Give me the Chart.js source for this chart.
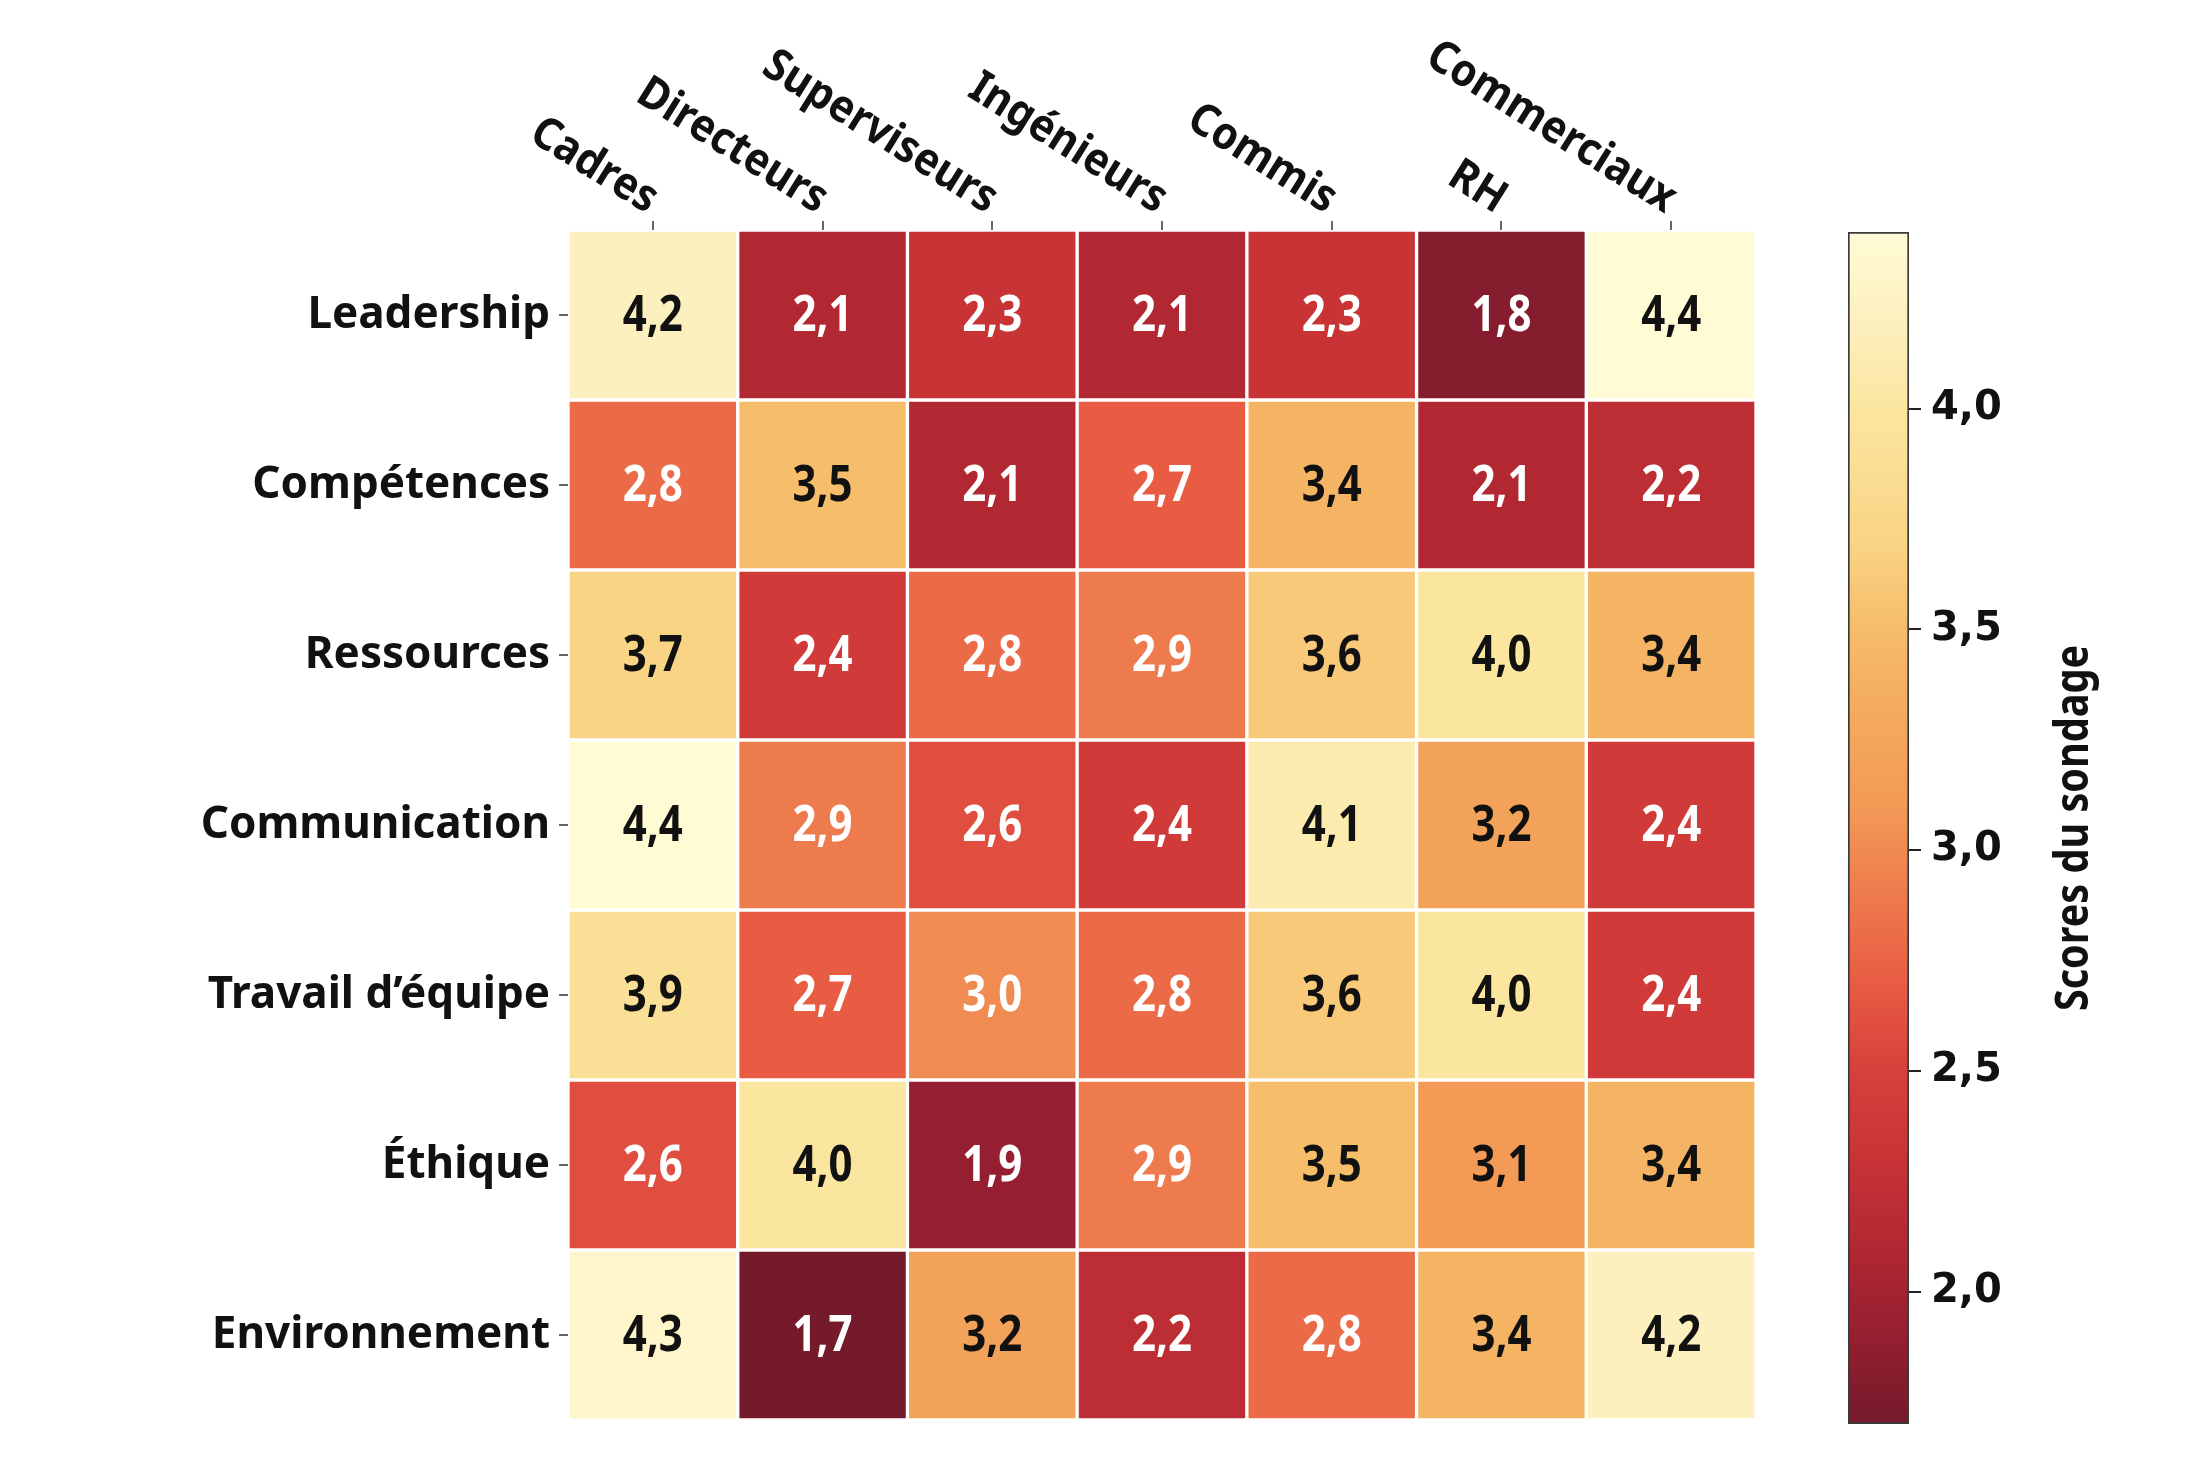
<!DOCTYPE html>
<html lang="fr">
<head>
<meta charset="utf-8">
<title>Scores du sondage</title>
<script src="https://cdn.jsdelivr.net/npm/chart.js@4.4.1/dist/chart.umd.min.js"></script>
<style>
  html, body { margin: 0; padding: 0; background: #fff; }
  #wrap { position: relative; width: 2200px; height: 1470px; }
  #heat { position: absolute; left: 0; top: 0; }
  #bar  { position: absolute; left: 1800px; top: 0; }
</style>
</head>
<body>
<div id="wrap">
  <canvas id="heat" width="1800" height="1470"></canvas>
  <canvas id="bar" width="400" height="1470"></canvas>
</div>
<script>
// Heatmap of survey scores per job group, with a colour bar on the right.

const columns = ["Cadres", "Directeurs", "Superviseurs", "Ingénieurs", "Commis", "RH", "Commerciaux"];
const rows    = ["Leadership", "Compétences", "Ressources", "Communication",
                 "Travail d’équipe", "Éthique", "Environnement"];

const leadership    = [4.2, 2.1, 2.3, 2.1, 2.3, 1.8, 4.4];
const competences   = [2.8, 3.5, 2.1, 2.7, 3.4, 2.1, 2.2];
const ressources    = [3.7, 2.4, 2.8, 2.9, 3.6, 4.0, 3.4];
const communication = [4.4, 2.9, 2.6, 2.4, 4.1, 3.2, 2.4];
const travail       = [3.9, 2.7, 3.0, 2.8, 3.6, 4.0, 2.4];
const ethique       = [2.6, 4.0, 1.9, 2.9, 3.5, 3.1, 3.4];
const environnement = [4.3, 1.7, 3.2, 2.2, 2.8, 3.4, 4.2];

const scores = [leadership, competences, ressources, communication, travail, ethique, environnement];

const scaleMin  = 1.7;
const scaleMax  = 4.4;
const cbTicks   = [2.0, 2.5, 3.0, 3.5, 4.0];
const cbTitle   = "Scores du sondage";

// colour map stops (score -> colour)
const cmapStops  = [1.7, 1.9, 2.1, 2.3, 2.5, 2.7, 2.9, 3.1, 3.3, 3.5, 3.7, 4.0, 4.2, 4.4];
const cmapColors = ["#741a2b", "#951f30", "#b22832", "#c83336", "#d8403b", "#e85c43", "#ee7b4d",
                    "#f29a56", "#f4a95e", "#f6bd6a", "#f9d485", "#fbe6a0", "#fdf0bf", "#fffbd5"];

const LABEL_FONT = "'Noto Sans', sans-serif";

function hexToRgb(h) {
  const n = parseInt(h.slice(1), 16);
  return [(n >> 16) & 255, (n >> 8) & 255, n & 255];
}

function colorFor(v) {
  if (v <= cmapStops[0]) return cmapColors[0];
  for (let i = 1; i < cmapStops.length; i++) {
    if (v <= cmapStops[i]) {
      const t = (v - cmapStops[i - 1]) / (cmapStops[i] - cmapStops[i - 1]);
      const a = hexToRgb(cmapColors[i - 1]), b = hexToRgb(cmapColors[i]);
      const c = a.map((x, k) => Math.round(x + (b[k] - x) * t));
      return `rgb(${c[0]},${c[1]},${c[2]})`;
    }
  }
  return cmapColors[cmapColors.length - 1];
}

const fmt = v => v.toFixed(1).replace(".", ",");

// one stacked dataset per row, every cell has height 1
const datasets = rows.map((r, i) => ({
  label: r,
  data: columns.map(() => 1),
  backgroundColor: scores[i].map(colorFor),
  borderColor: "#ffffff",
  borderWidth: 2,
  borderSkipped: false,
  categoryPercentage: 1,
  barPercentage: 1,
}));

// values inside the cells, drawn a bit narrow like the original condensed face
const cellLabels = {
  id: "cellLabels",
  afterDatasetsDraw(chart) {
    const ctx = chart.ctx;
    ctx.save();
    ctx.font = "bold 50px " + LABEL_FONT;
    ctx.textAlign = "center";
    ctx.textBaseline = "middle";
    chart.data.datasets.forEach((ds, i) => {
      chart.getDatasetMeta(i).data.forEach((el, j) => {
        const v = scores[i][j];
        ctx.fillStyle = v <= 3.0 ? "#ffffff" : "#111111";
        ctx.save();
        ctx.translate(el.x, (el.y + el.base) / 2 + 2);
        ctx.scale(0.84, 1);
        ctx.fillText(fmt(v), 0, 0);
        ctx.restore();
      });
    });
    ctx.restore();
  }
};

const topLabels = {
  id: "topLabels",
  afterDraw(chart) {
    const ctx = chart.ctx;
    const xs = chart.scales.x;
    ctx.save();
    ctx.font = "bold 45px " + LABEL_FONT;
    ctx.fillStyle = "#111111";
    ctx.textAlign = "right";
    ctx.textBaseline = "alphabetic";
    columns.forEach((c, i) => {
      ctx.save();
      ctx.translate(xs.getPixelForTick(i) - 6, 214);
      ctx.rotate(32 * Math.PI / 180);
      ctx.scale(0.92, 1);
      ctx.fillText(c, 0, 0);
      ctx.restore();
    });
    ctx.restore();
  }
};

new Chart(document.getElementById("heat"), {
  type: "bar",
  data: { labels: columns, datasets },
  options: {
    responsive: false,
    devicePixelRatio: 1,
    animation: false,
    layout: { padding: { left: 0, top: 0, right: 44, bottom: 50 } },
    plugins: { legend: { display: false }, tooltip: { enabled: false } },
    scales: {
      x: {
        stacked: true,
        position: "top",
        grid: { offset: false, drawOnChartArea: false, drawTicks: true, tickLength: 9, color: "#666", lineWidth: 2 },
        border: { display: false },
        ticks: { display: false },
        afterFit(scale) { scale.width = scale.width; scale.height = 230; },
      },
      y: {
        stacked: true,
        min: 0,
        max: rows.length,
        reverse: true,
        afterBuildTicks(scale) { scale.ticks = rows.map((r, i) => ({ value: i + 0.5 })); },
        grid: { drawOnChartArea: false, drawTicks: true, tickLength: 9, color: "#666", lineWidth: 2 },
        border: { display: false },
        ticks: {
          padding: 9,
          color: "#111111",
          font: { family: LABEL_FONT, size: 44, weight: "bold" },
          callback: v => rows[Math.floor(v)],
        },
        afterFit(scale) { scale.width = 568; },
      },
    },
  },
  plugins: [cellLabels, topLabels],
});

// colour bar: one floating bar spanning the whole score range, filled with the colour map
function cbGradient(ctx) {
  const chart = ctx.chart;
  const area = chart.chartArea;
  if (!area) return cmapColors[0];
  const ys = chart.scales.y;
  const g = chart.ctx.createLinearGradient(0, ys.getPixelForValue(scaleMin), 0, ys.getPixelForValue(scaleMax));
  cmapStops.forEach((s, i) => g.addColorStop((s - scaleMin) / (scaleMax - scaleMin), cmapColors[i]));
  return g;
}

const cbTitlePlugin = {
  id: "cbTitle",
  afterDraw(chart) {
    const ctx = chart.ctx;
    const a = chart.chartArea;
    ctx.save();
    ctx.font = "bold 46px " + LABEL_FONT;
    ctx.fillStyle = "#111111";
    ctx.textAlign = "center";
    ctx.textBaseline = "middle";
    ctx.translate(275, (a.top + a.bottom) / 2);
    ctx.rotate(-Math.PI / 2);
    ctx.scale(0.86, 1);
    ctx.fillText(cbTitle, 0, 0);
    ctx.restore();
  }
};

new Chart(document.getElementById("bar"), {
  type: "bar",
  data: {
    labels: [""],
    datasets: [{
      data: [[scaleMin, scaleMax]],
      backgroundColor: cbGradient,
      borderColor: "#3a3a3a",
      borderWidth: 2,
      borderSkipped: false,
      categoryPercentage: 1,
      barPercentage: 1,
    }],
  },
  options: {
    responsive: false,
    devicePixelRatio: 1,
    animation: false,
    layout: { padding: { left: 48, top: 232, right: 0, bottom: 46 } },
    plugins: { legend: { display: false }, tooltip: { enabled: false } },
    scales: {
      x: { display: false },
      y: {
        position: "right",
        min: scaleMin,
        max: scaleMax,
        afterBuildTicks(scale) { scale.ticks = cbTicks.map(v => ({ value: v })); },
        grid: { drawOnChartArea: false, drawTicks: true, tickLength: 12, color: "#222", lineWidth: 2 },
        border: { display: false },
        ticks: {
          padding: 10,
          color: "#111111",
          font: { family: "'DejaVu Sans', sans-serif", size: 40, weight: "bold" },
          callback: v => fmt(v),
        },
        afterFit(scale) { scale.width = 291; },
      },
    },
  },
  plugins: [cbTitlePlugin],
});
</script>
</body>
</html>
